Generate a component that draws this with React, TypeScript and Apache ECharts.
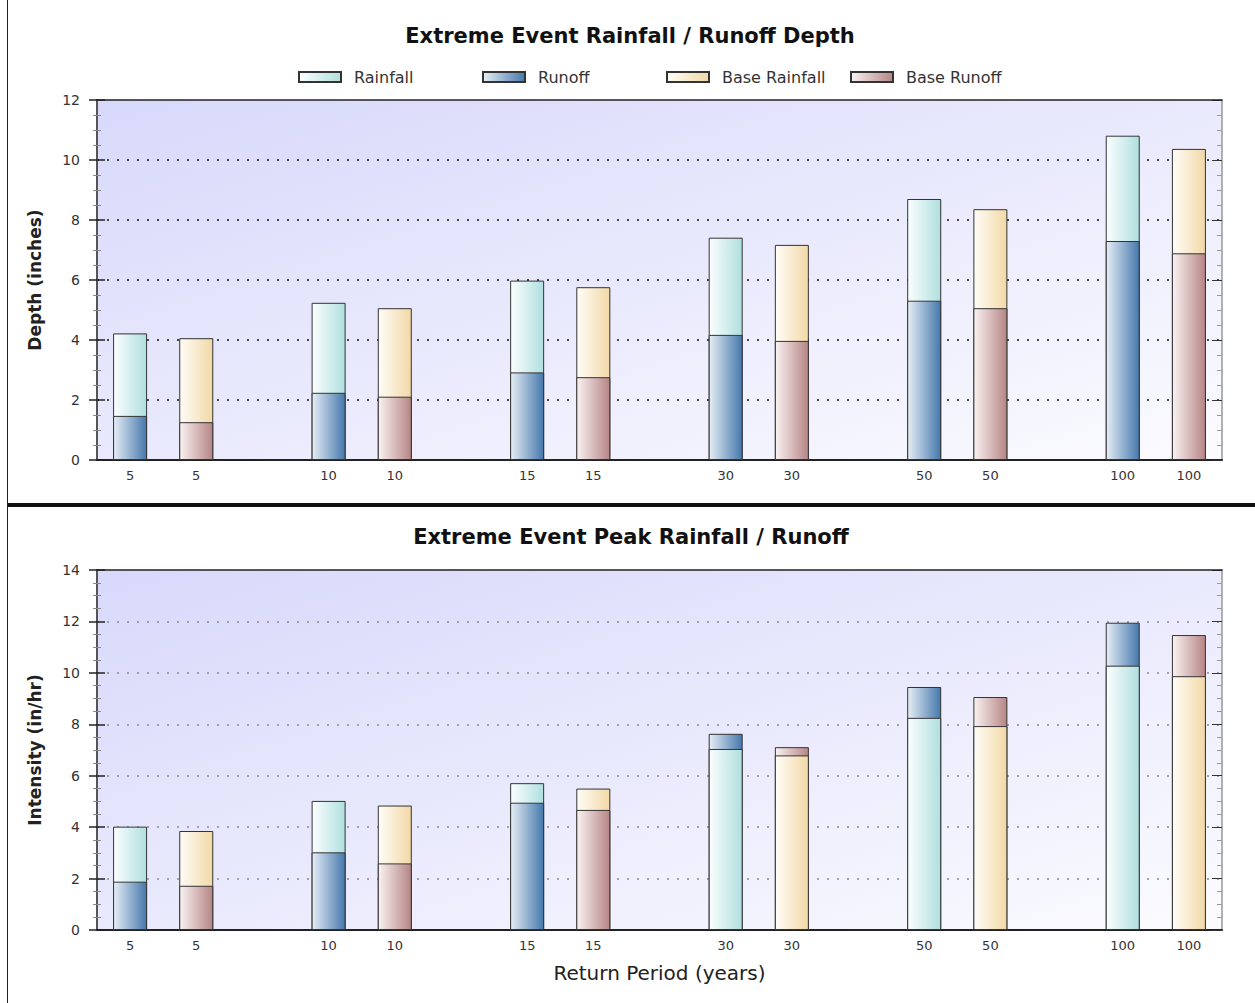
import React, { useEffect, useRef } from "react";
import * as echarts from "echarts";

const returnPeriods = ["5", "10", "15", "30", "50", "100"];

// Top chart: depth (inches)
const depthRainfall = [4.22, 5.24, 5.98, 7.41, 8.7, 10.81];
const depthRunoff = [1.47, 2.24, 2.92, 4.17, 5.31, 7.3];
const depthBaseRainfall = [4.06, 5.06, 5.76, 7.17, 8.36, 10.37];
const depthBaseRunoff = [1.26, 2.11, 2.76, 3.97, 5.06, 6.89];

// Bottom chart: peak intensity (in/hr)
const peakRainfall = [4.02, 5.02, 5.71, 7.04, 8.25, 10.28];
const peakRunoff = [1.88, 3.02, 4.95, 7.63, 9.45, 11.95];
const peakBaseRainfall = [3.85, 4.84, 5.5, 6.79, 7.93, 9.87];
const peakBaseRunoff = [1.72, 2.59, 4.67, 7.11, 9.06, 11.47];

const depthTicks = { min: 0, max: 12, interval: 2 };
const peakTicks = { min: 0, max: 14, interval: 2 };

const titles = ["Extreme Event Rainfall / Runoff Depth", "Extreme Event Peak Rainfall / Runoff"];
const yNames = ["Depth (inches)", "Intensity (in/hr)"];
const xName = "Return Period (years)";
const legendNames = ["Rainfall", "Runoff", "Base Rainfall", "Base Runoff"];

// slots: scenario, base, gap for each return period
type Slot = { g: number; off: number };
const slots: Slot[] = [];
returnPeriods.forEach((_, g) => {
  slots.push({ g, off: 0 });
  slots.push({ g, off: 1 });
  if (g < returnPeriods.length - 1) slots.push({ g: -1, off: -1 });
});
const slotLabels = slots.map((s) => (s.g >= 0 ? returnPeriods[s.g] : ""));

const FONT = "DejaVu Sans";

const grad = (a: string, b: string) =>
  new echarts.graphic.LinearGradient(0, 0, 1, 0, [
    { offset: 0, color: a },
    { offset: 1, color: b },
  ]);

const colors: Record<string, [string, string]> = {
  Rainfall: ["#fbfefe", "#b0dfdf"],
  Runoff: ["#e6eef5", "#4578ac"],
  "Base Rainfall": ["#fffdf8", "#f2d8a6"],
  "Base Runoff": ["#faf2f2", "#b68585"],
};

function barSeries(name: string, front: boolean, xi: number, yi: number, data: (number | null)[]) {
  const [a, b] = colors[name];
  return {
    type: "bar",
    name,
    xAxisIndex: xi,
    yAxisIndex: yi,
    barWidth: 34,
    barGap: "-100%",
    z: front ? 3 : 2,
    itemStyle: { color: grad(a, b), borderColor: "#333", borderWidth: 1 },
    emphasis: { disabled: true },
    data,
  };
}

// The taller of the pair is drawn behind, the shorter in front.
function pairSeries(
  rainName: string,
  runName: string,
  rain: number[],
  run: number[],
  off: number,
  xi: number,
  yi: number
) {
  const pick = (vals: number[], cond: (g: number) => boolean) =>
    slots.map((s) => (s.g >= 0 && s.off === off && cond(s.g) ? vals[s.g] : null));
  return [
    barSeries(rainName, false, xi, yi, pick(rain, (g) => rain[g] >= run[g])),
    barSeries(runName, false, xi, yi, pick(run, (g) => run[g] > rain[g])),
    barSeries(rainName, true, xi, yi, pick(rain, (g) => rain[g] < run[g])),
    barSeries(runName, true, xi, yi, pick(run, (g) => run[g] <= rain[g])),
  ];
}

const bg = () =>
  new echarts.graphic.LinearGradient(0, 0, 1, 1, [
    { offset: 0, color: "#d8d8fb" },
    { offset: 1, color: "#fbfbff" },
  ]);

function xAxes(gridIndex: number, withName: boolean) {
  return [
    {
      type: "category",
      gridIndex,
      data: slotLabels,
      position: "bottom",
      axisLine: { onZero: false, lineStyle: { color: "#222", width: 2 } },
      axisTick: { show: false },
      axisLabel: { color: "#333", fontSize: 13, fontFamily: FONT, margin: 9, interval: 0 },
      name: withName ? xName : "",
      nameLocation: "middle",
      nameGap: 33,
      nameTextStyle: { color: "#222", fontSize: 20, fontFamily: FONT },
    },
    {
      type: "category",
      gridIndex,
      data: slotLabels,
      position: "top",
      axisLine: { onZero: false, lineStyle: { color: "#222", width: 1.5 } },
      axisTick: { show: false },
      axisLabel: { show: false },
      z: 10,
    },
  ];
}

function yAxes(gridIndex: number, ticks: { min: number; max: number; interval: number }, name: string, dotColor: string) {
  return [
    {
      type: "value",
      gridIndex,
      position: "left",
      ...ticks,
      axisLine: { show: true, onZero: false, lineStyle: { color: "#555", width: 2 } },
      axisTick: { show: true, inside: false, length: 8, lineStyle: { color: "#222", width: 1.5 } },
      minorTick: { show: true, splitNumber: 4, length: 4, lineStyle: { color: "#888" } },
      axisLabel: { color: "#333", fontSize: 14, fontFamily: FONT, margin: 17 },
      splitLine: {
        show: true,
        showMinLine: false,
        showMaxLine: false,
        lineStyle: { color: dotColor, width: 1.5, type: [2, 8] },
      },
      name,
      nameLocation: "middle",
      nameGap: 54,
      nameTextStyle: { color: "#222", fontSize: 17, fontWeight: "bold", fontFamily: FONT },
    },
    {
      type: "value",
      gridIndex,
      position: "left",
      ...ticks,
      axisLine: { show: false, onZero: false },
      axisTick: { show: true, inside: true, length: 8, lineStyle: { color: "#222", width: 1.5 } },
      minorTick: { show: true, splitNumber: 4, length: 4, lineStyle: { color: "#888" } },
      axisLabel: { show: false },
      splitLine: { show: false },
    },
    {
      type: "value",
      gridIndex,
      position: "right",
      ...ticks,
      axisLine: { show: true, onZero: false, lineStyle: { color: "#999", width: 1.5 } },
      axisTick: { show: true, inside: true, length: 10, lineStyle: { color: "#333" } },
      minorTick: { show: true, splitNumber: 4, length: 5, lineStyle: { color: "#999" } },
      axisLabel: { show: false },
      splitLine: { show: false },
    },
  ];
}

const legendLefts = [293, 477, 661, 845];

const titleText = (text: string, x: number, y: number) => ({
  type: "text",
  x,
  y,
  style: {
    text,
    fontSize: 21,
    fontWeight: "bold",
    fontFamily: FONT,
    fill: "#111",
    align: "center",
    verticalAlign: "middle",
  },
});

export default function App() {
  const ref = useRef<HTMLDivElement>(null);
  useEffect(() => {
    if (!ref.current) return;
    const chart = echarts.init(ref.current, null, { renderer: "svg" });
    chart.setOption({
      animation: false,
      backgroundColor: "#ffffff",
      grid: [
        { left: 97, top: 100, width: 1125, height: 360, show: true, borderWidth: 0, backgroundColor: bg() },
        { left: 97, top: 570, width: 1125, height: 360, show: true, borderWidth: 0, backgroundColor: bg() },
      ],
      legend: legendNames.map((n, i) => ({
        data: [n],
        left: legendLefts[i],
        top: 64,
        itemWidth: 42,
        itemHeight: 10,
        icon: "rect",
        selectedMode: false,
        textStyle: { color: "#333", fontSize: 16, fontFamily: FONT, padding: [0, 0, 0, 8] },
      })),
      xAxis: [...xAxes(0, false), ...xAxes(1, true)],
      yAxis: [
        ...yAxes(0, depthTicks, yNames[0], "#111"),
        ...yAxes(1, peakTicks, yNames[1], "#8a8a8a"),
      ],
      series: [
        ...pairSeries("Rainfall", "Runoff", depthRainfall, depthRunoff, 0, 0, 0),
        ...pairSeries("Base Rainfall", "Base Runoff", depthBaseRainfall, depthBaseRunoff, 1, 0, 0),
        ...pairSeries("Rainfall", "Runoff", peakRainfall, peakRunoff, 0, 2, 3),
        ...pairSeries("Base Rainfall", "Base Runoff", peakBaseRainfall, peakBaseRunoff, 1, 2, 3),
      ],
      graphic: [
        titleText(titles[0], 630, 36),
        titleText(titles[1], 631, 537),
        {
          type: "line",
          shape: { x1: 7.5, y1: 0, x2: 7.5, y2: 1003 },
          style: { stroke: "#222", lineWidth: 1 },
        },
        {
          type: "rect",
          shape: { x: 8, y: 503, width: 1247, height: 4 },
          style: { fill: "#111" },
        },
      ],
    });
    return () => chart.dispose();
  }, []);
  return (
    <div
      ref={ref}
      style={{ position: "absolute", left: 0, top: 0, width: 1255, height: 1003 }}
    />
  );
}
